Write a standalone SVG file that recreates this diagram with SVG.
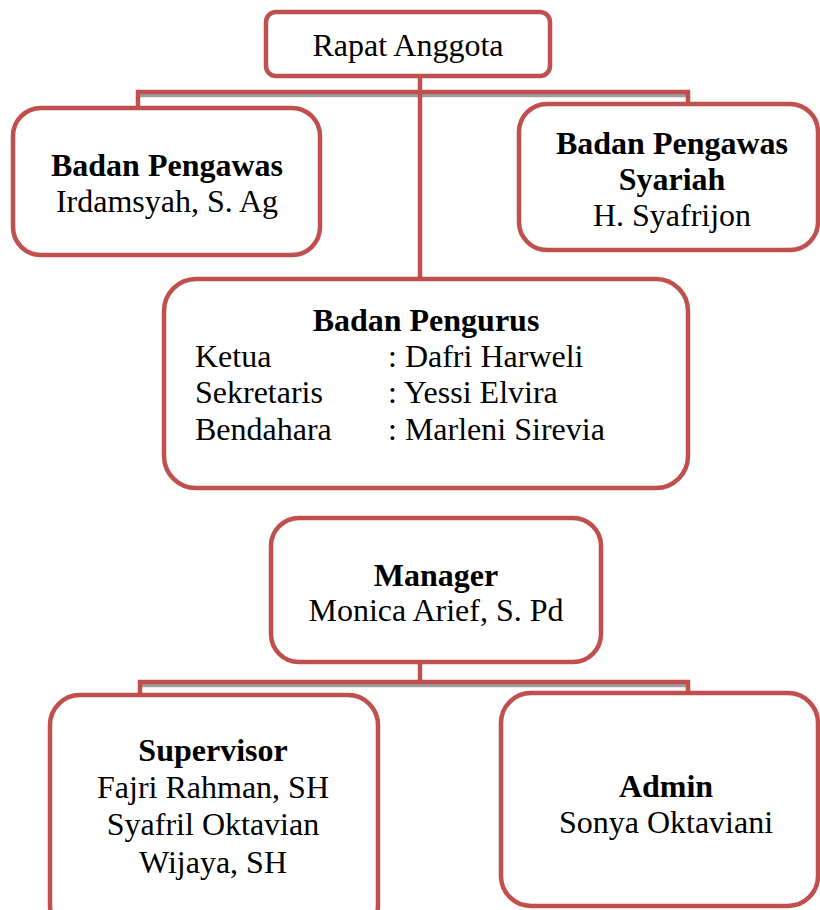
<svg xmlns="http://www.w3.org/2000/svg" width="820" height="910" viewBox="0 0 820 910">
<style>
.box{fill:#fff;stroke:#C0504D;stroke-width:4.5}
.con{fill:none;stroke:#C0504D;stroke-width:4.5}
.sh{fill:none;stroke:#9E9E9E;stroke-width:3.5}
text{font-family:"Liberation Serif","Times New Roman",serif;font-size:32px;fill:#000}
.c{text-anchor:middle}
.b{font-weight:bold}
</style>
<rect width="820" height="910" fill="#fff"/>
<g id="connectors">
<line class="sh" x1="140" y1="95.5" x2="688" y2="95.5"/>
<polyline class="con" points="138,108 138,92 688,92 688,104"/>
<line class="con" x1="420" y1="77" x2="420" y2="279"/>
<line class="sh" x1="142" y1="685.5" x2="688" y2="685.5"/>
<polyline class="con" points="140,695 140,682 688,682 688,693"/>
<line class="con" x1="420" y1="662" x2="420" y2="682"/>
</g>
<g id="rapat">
<rect class="box" x="266" y="12" width="284" height="64" rx="10"/>
<text class="c" x="408" y="56">Rapat Anggota</text>
</g>
<g id="pengawas">
<rect class="box" x="13" y="108" width="307" height="147" rx="28"/>
<text class="c b" x="167" y="176">Badan Pengawas</text>
<text class="c" x="167" y="212">Irdamsyah, S. Ag</text>
</g>
<g id="syariah">
<rect class="box" x="519" y="104" width="299" height="146" rx="28"/>
<text class="c b" x="672" y="154">Badan Pengawas</text>
<text class="c b" x="672" y="190">Syariah</text>
<text class="c" x="672" y="226">H. Syafrijon</text>
</g>
<g id="pengurus">
<rect class="box" x="164" y="279" width="524" height="209" rx="32"/>
<text class="c b" x="426" y="331">Badan Pengurus</text>
<text x="195" y="367">Ketua</text>
<text x="388" y="367">: Dafri Harweli</text>
<text x="195" y="403">Sekretaris</text>
<text x="388" y="403">: Yessi Elvira</text>
<text x="195" y="440">Bendahara</text>
<text x="388" y="440">: Marleni Sirevia</text>
</g>
<g id="manager">
<rect class="box" x="271" y="518" width="330" height="144" rx="28"/>
<text class="c b" x="436" y="586">Manager</text>
<text class="c" x="436" y="621">Monica Arief, S. Pd</text>
</g>
<g id="supervisor">
<rect class="box" x="50" y="695" width="328" height="240" rx="30"/>
<text class="c b" x="213" y="761">Supervisor</text>
<text class="c" x="213" y="798">Fajri Rahman, SH</text>
<text class="c" x="213" y="835">Syafril Oktavian</text>
<text class="c" x="213" y="873">Wijaya, SH</text>
</g>
<g id="admin">
<rect class="box" x="501" y="693" width="317" height="213" rx="30"/>
<text class="c b" x="666" y="797">Admin</text>
<text class="c" x="666" y="833">Sonya Oktaviani</text>
</g>
</svg>
